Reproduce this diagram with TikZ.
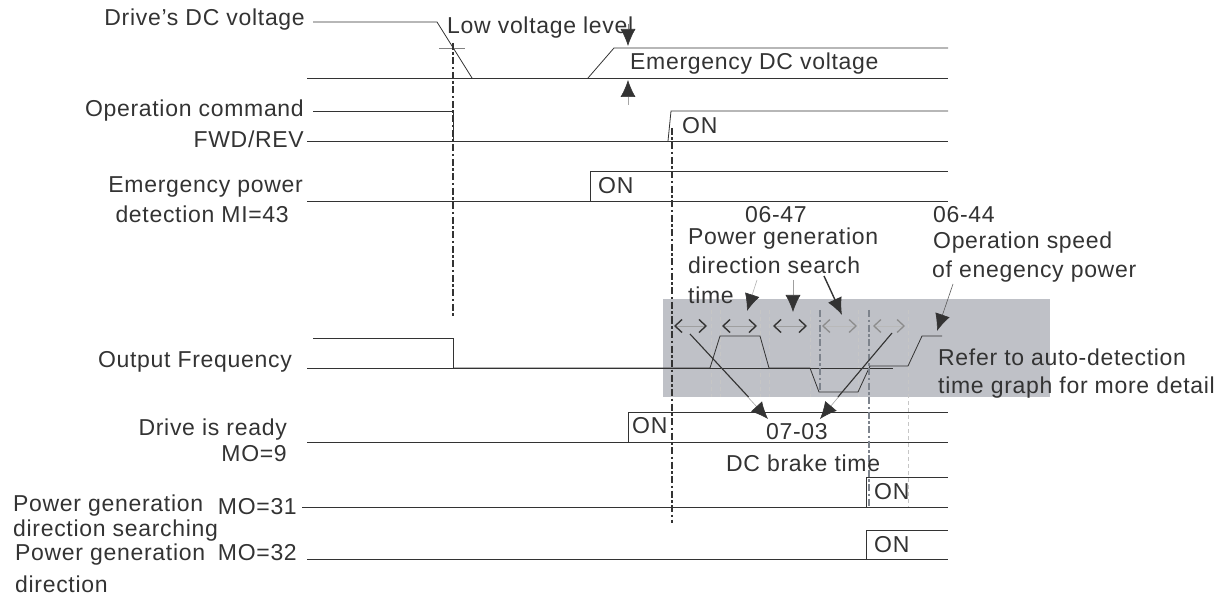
\documentclass[tikz,border=0pt]{standalone}
\usepackage{fontspec}
\setmainfont{Liberation Sans}[LetterSpace=3]
\usetikzlibrary{arrows.meta}
\definecolor{ink}{HTML}{333333}
\definecolor{boxgray}{HTML}{BFC1C7}
\definecolor{dgray}{HTML}{7D838C}
\tikzset{
  txt/.style={inner sep=0pt, text=ink, font=\fontsize{23}{27}\selectfont},
  sig/.style={draw=ink, line width=0.8pt},
  marker/.style={draw=ink, line width=2.6pt, dash pattern=on 7pt off 2.5pt on 2.5pt off 2.5pt},
  markergray/.style={draw=dgray, line width=2.6pt, dash pattern=on 7pt off 2.5pt on 2.5pt off 2.5pt},
  thindash/.style={draw=gray!45, line width=0.6pt, dash pattern=on 4pt off 3pt},
  dbl/.style={draw=gray!75, line width=0.6pt, {Straight Barb[length=7pt,width=13pt,line width=1.4pt,color=ink]}-{Straight Barb[length=7pt,width=13pt,line width=1.4pt,color=ink]}},
  dbllight/.style={draw=gray!55, line width=0.6pt, {Straight Barb[length=7pt,width=13pt,line width=1.3pt,color=gray!90]}-{Straight Barb[length=7pt,width=13pt,line width=1.3pt,color=gray!90]}},
  pointer/.style={-{Latex[length=17pt,width=15pt,color=ink]}, line width=0.6pt},
}
\begin{document}
\begin{tikzpicture}[x=1pt,y=-1pt]
\useasboundingbox (0,0) rectangle (1227,596);

% shaded region
\fill[boxgray] (663,299) rectangle (1050,397);

% thin dashed guides
\foreach \xx in {711,720,760,769,810,858} \draw[thindash] (\xx,310) -- (\xx,397);
\draw[thindash] (908,310) -- (908,507);

% Drive's DC voltage
\draw[sig] (313,22) -- (437,22) -- (472,78);
\draw[sig] (307,78) -- (948,78);
\draw[sig] (588,78) -- (614,48) -- (948,48);
\draw[draw=gray, line width=0.6pt] (439,48) -- (465,48);

% Operation command
\draw[sig] (313,111) -- (453,111) -- (453,141);
\draw[sig] (307,141) -- (948,141);
\draw[sig] (668,141) -- (671,111) -- (948,111);

% Emergency power detection
\draw[sig] (307,201) -- (948,201);
\draw[sig] (590,201) -- (590,171) -- (948,171);

% Output frequency
\draw[sig] (313,338) -- (453,338) -- (453,368);
\draw[sig] (307,368) -- (893,368);
\draw[sig] (453,368) -- (710,368) -- (720,336) -- (760,336) -- (769,368) -- (810,368)
  -- (819,392) -- (858,392) -- (870,366) -- (908,366) -- (922,336) -- (942,336);

% Drive is ready
\draw[sig] (307,442) -- (948,442);
\draw[sig] (628,442) -- (628,412) -- (948,412);

% MO=31
\draw[sig] (302,507) -- (948,507);
\draw[sig] (866,507) -- (866,477) -- (948,477);

% MO=32
\draw[sig] (307,559) -- (948,559);
\draw[sig] (866,559) -- (866,530) -- (948,530);

% time markers
\draw[marker] (453,43) -- (453,318);
\draw[marker] (672,128) -- (672,523);
\draw[markergray] (820,310) -- (820,392);
\draw[markergray] (869,310) -- (869,507);

% double arrows (search intervals)
\coordinate (s1a) at (674,326); \coordinate (s1b) at (707,326);
\coordinate (s2a) at (722,326); \coordinate (s2b) at (757,326);
\coordinate (s3a) at (773,326); \coordinate (s3b) at (807,326);
\coordinate (s4a) at (822,326); \coordinate (s4b) at (857,326);
\coordinate (s5a) at (873,326); \coordinate (s5b) at (905,326);
\draw[dbl] (s1a) -- (s1b);
\draw[dbl] (s2a) -- (s2b);
\draw[dbl] (s3a) -- (s3b);
\draw[dbllight] (s4a) -- (s4b);
\draw[dbllight] (s5a) -- (s5b);

% texts
\node[txt, anchor=base east] (ldc) at (305,26) {Drive's DC voltage};
\node[txt, anchor=base west] (lowv) at (447,34) {Low voltage level};
\node[txt, anchor=base west] (emdc) at (630,70) {Emergency DC voltage};
\node[txt, anchor=base east] (opc) at (304,117) {Operation command};
\node[txt, anchor=base east] (fwd) at (304,148) {FWD/REV};
\node[txt, anchor=base west] (on1) at (682,134) {ON};
\node[txt, anchor=base east] (emp) at (303,193) {Emergency power};
\node[txt, anchor=base east] (emp2) at (289,223) {detection MI=43};
\node[txt, anchor=base west] (on2) at (598,194) {ON};
\node[txt, anchor=base west] (t0647) at (745,223) {06-47};
\node[txt, anchor=base west] (pg1) at (688,245) {Power generation};
\node[txt, anchor=base west] (pg2) at (688,274) {direction search};
\node[txt, anchor=base west] (pg3) at (688,303) {time};
\node[txt, anchor=base west] (t0644) at (933,223) {06-44};
\node[txt, anchor=base west] (os1) at (933,249) {Operation speed};
\node[txt, anchor=base west] (os2) at (932,278) {of enegency power};
\node[txt, anchor=base east] (ofq) at (292,367) {Output Frequency};
\node[txt, anchor=base west] (ref1) at (938,365) {Refer to auto-detection};
\node[txt, anchor=base west] (ref2) at (938,393) {time graph for more detail};
\node[txt, anchor=base east] (dr1) at (287,435) {Drive is ready};
\node[txt, anchor=base east] (dr2) at (287,461) {MO=9};
\node[txt, anchor=base west] (on3) at (632,433) {ON};
\node[txt, anchor=base west] (t0703) at (766,439) {07-03};
\node[txt, anchor=base west] (dcb) at (726,471) {DC brake time};
\node[txt, anchor=base west] (pgs1) at (13,511) {Power generation};
\node[txt, anchor=base east] (mo31) at (297,514) {MO=31};
\node[txt, anchor=base west] (pgs2) at (13,536) {direction searching};
\node[txt, anchor=base west] (on4) at (874,499) {ON};
\node[txt, anchor=base west] (pgd1) at (15,560) {Power generation};
\node[txt, anchor=base east] (mo32) at (297,560) {MO=32};
\node[txt, anchor=base west] (pgd2) at (15,592) {direction};
\node[txt, anchor=base west] (on5) at (874,552) {ON};

% voltage level pointers
\coordinate (dnA) at (628,24); \coordinate (dnB) at (628,46);
\coordinate (upA) at (628,105); \coordinate (upB) at (628,80);
\draw[pointer, draw=gray] (dnA) -- (dnB);
\draw[pointer, draw=gray!70] (upA) -- (upB);

% 06-47 pointers
\coordinate (p1a) at (757,280); \coordinate (p1b) at (747,311);
\coordinate (p2a) at (793,280); \coordinate (p2b) at (793,312);
\coordinate (p3a) at (824,276); \coordinate (p3b) at (842,315);
\draw[pointer, draw=gray!60] (p1a) -- (p1b);
\draw[pointer, draw=gray!75] (p2a) -- (p2b);
\draw[pointer, draw=ink, line width=1.4pt] (p3a) -- (p3b);

% 06-44 pointer
\coordinate (p4a) at (953,284); \coordinate (p4b) at (937,331);
\draw[pointer, draw=ink!80] (p4a) -- (p4b);

% 07-03 pointers
\coordinate (q1a) at (690,334); \coordinate (q1m) at (748.5,397); \coordinate (q1b) at (768,419);
\coordinate (q2a) at (892,333); \coordinate (q2m) at (838,397); \coordinate (q2b) at (820,419);
\draw[pointer, draw=gray!70] (q1a) -- (q1b);
\draw[pointer, draw=gray!70] (q2a) -- (q2b);
\draw[draw=ink, line width=1.1pt] (q1a) -- (q1m);
\draw[draw=ink, line width=1.1pt] (q2a) -- (q2m);
\end{tikzpicture}
\end{document}
